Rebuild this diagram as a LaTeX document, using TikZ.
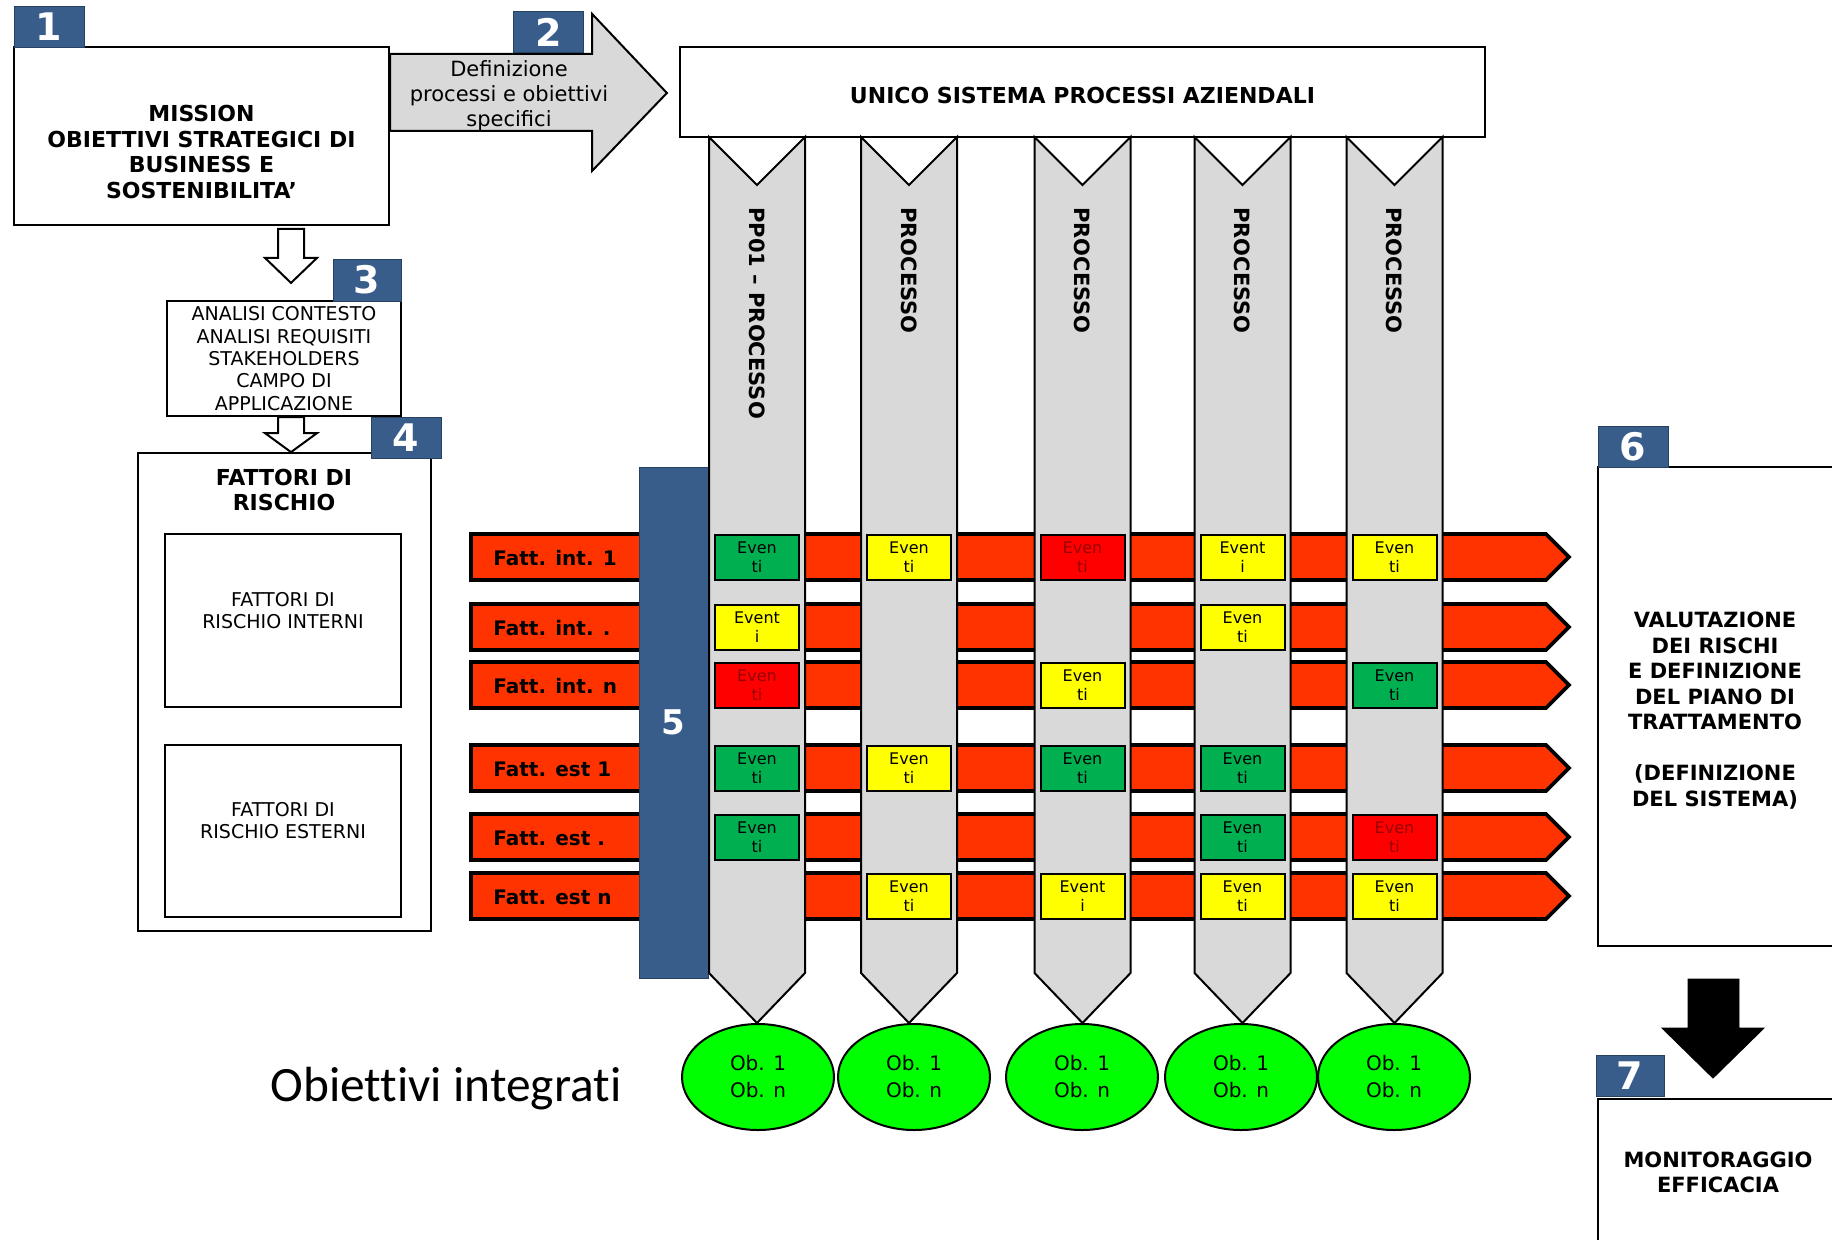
\documentclass[tikz,border=0pt]{standalone}
\usepackage{fontspec}
\setmainfont{DejaVu Sans}
\newfontfamily\carlito[Ligatures=CommonOff]{Carlito}
\usetikzlibrary{positioning,calc,shapes.geometric}

\definecolor{numblue}{HTML}{385D8A}
\definecolor{factred}{HTML}{FF3300}
\definecolor{evgreen}{HTML}{00B050}
\definecolor{evyellow}{HTML}{FFFF00}
\definecolor{evred}{HTML}{FF0000}
\definecolor{evtxtred}{HTML}{990000}
\definecolor{procgray}{HTML}{D9D9D9}
\definecolor{obgreen}{HTML}{00FF00}

\newcommand{\evti}{Even\\ti}
\newcommand{\evi}{Event\\i}

\begin{document}
\begin{tikzpicture}[
    x=0.5pt, y=-0.5pt,
    font=\fontsize{10.5}{12.5}\selectfont,
    numbox/.style={draw=numblue!70!black, fill=numblue, text=white, inner sep=0pt, minimum width=35pt, minimum height=20.5pt, font=\fontsize{19}{19}\selectfont\bfseries},
    plainbox/.style={draw, line width=1.1pt, fill=white, inner sep=0pt},
    headtxt/.style={align=center, font=\fontsize{11}{12.8}\selectfont\bfseries},
    smalltxt/.style={align=center, font=\fontsize{9.5}{11.2}\selectfont},
    factbar/.style={draw, line width=1.8pt, fill=factred},
    facttxt/.style={anchor=west, inner sep=0pt, font=\fontsize{10}{12}\selectfont\bfseries},
    procbar/.style={draw, line width=1pt, fill=procgray},
    proctxt/.style={anchor=west, rotate=-90, inner sep=0pt, font=\fontsize{10.5}{12}\selectfont\bfseries},
    event/.style={draw, line width=1pt, fill=#1, minimum width=42pt, minimum height=22.5pt, inner sep=0pt, align=center, font=\fontsize{8}{9.5}\selectfont},
    objective/.style={ellipse, draw, line width=1pt, fill=obgreen, minimum width=76pt, minimum height=53pt, inner sep=0pt, align=center, font=\fontsize{10}{13.5}\selectfont},
    hollow/.style={draw, line width=1pt, fill=white},
    bigarrow/.style={draw, line width=1pt, fill=procgray}
]
    \clip (0,0) rectangle (1832,1239);
    \fill[white] (0,0) rectangle (1832,1239);

    % risk factor bars
    \foreach \fy/\ft [count=\i] in {557/Fatt. int. 1, 627/Fatt. int. ., 685/Fatt. int. n, 768/Fatt. est 1, 837/Fatt. est ., 896/Fatt. est n} {
        \draw[factbar] (471,\fy-23) -- (1546,\fy-23) -- (1569,\fy) -- (1546,\fy+23) -- (471,\fy+23) -- cycle;
        \node[facttxt] (fatt\i) at (493,\fy+1) {\ft};
    }
    \node[draw=numblue!70!black, fill=numblue, text=white, minimum width=34.5pt, minimum height=255.5pt, font=\fontsize{17}{17}\selectfont\bfseries] (n5) at (673.5,722.5) {5};

    % processes
    \node[plainbox, minimum width=402.5pt, minimum height=45pt, font=\fontsize{11}{12}\selectfont\bfseries] (sistema) at (1082.5,92) {};
    \node[font=\fontsize{11}{12}\selectfont\bfseries] (sistematxt) at (1082.5,95) {UNICO SISTEMA PROCESSI AZIENDALI};
    \foreach \px/\pt [count=\i] in {757/PP01 -- PROCESSO, 909/PROCESSO, 1082.5/PROCESSO, 1242.5/PROCESSO, 1394.5/PROCESSO} {
        \draw[procbar] (\px-48,137) -- (\px,185) -- (\px+48,137) -- (\px+48,973) -- (\px,1023) -- (\px-48,973) -- cycle;
        \node[proctxt] (proc\i) at (\px,207) {\pt};
    }

    % events
    \foreach \ex/\ey/\efill/\etext/\ecol [count=\i] in {
        757/557/evgreen/\evti/black, 909/557/evyellow/\evti/black, 1082.5/557/evred/\evti/evtxtred, 1242.5/557/evyellow/\evi/black, 1394.5/557/evyellow/\evti/black,
        757/627/evyellow/\evi/black, 1242.5/627/evyellow/\evti/black,
        757/685/evred/\evti/evtxtred, 1082.5/685/evyellow/\evti/black, 1394.5/685/evgreen/\evti/black,
        757/768/evgreen/\evti/black, 909/768/evyellow/\evti/black, 1082.5/768/evgreen/\evti/black, 1242.5/768/evgreen/\evti/black,
        757/837/evgreen/\evti/black, 1242.5/837/evgreen/\evti/black, 1394.5/837/evred/\evti/evtxtred,
        909/896/evyellow/\evti/black, 1082.5/896/evyellow/\evi/black, 1242.5/896/evyellow/\evti/black, 1394.5/896/evyellow/\evti/black}
        \node[event=\efill, text=\ecol] (ev\i) at (\ex,\ey) {\etext};

    % objectives
    \foreach \ox [count=\i] in {758,914,1082,1241,1394}
        \node[objective] (ob\i) at (\ox,1077) {Ob. 1\\Ob. n};
    \node[font=\carlito\fontsize{24.7}{26}\selectfont] (obint) at (446,1089) {Obiettivi integrati};

    % left column
    \node[plainbox, minimum width=187.5pt, minimum height=89pt] (mission) at (201.5,136) {};
    \node[headtxt] (missiontxt) at (201.5,152) {MISSION\\OBIETTIVI STRATEGICI DI\\BUSINESS E\\SOSTENIBILITA’};
    \node[numbox] (n1) at (49,26.5) {1};

    \draw[bigarrow] ($(mission.north east)+(0,8)$) -- ++(202,0) -- ++(0,-40) -- ($(sistema.west)+(-12,1)$) -- ($(mission.north east)+(202,125)$) -- ++(0,-40) -- ($(mission.north east)+(0,85)$) -- cycle;
    \node[align=center, font=\fontsize{10.5}{12.5}\selectfont] (deftxt) at (509,96) {Definizione\\processi e obiettivi\\specifici};
    \node[numbox] (n2) at (548.5,32) {2};

    \node[plainbox, smalltxt, minimum width=117pt, minimum height=57.5pt] (analisi) at (284,358.5) {ANALISI CONTESTO\\ANALISI REQUISITI\\STAKEHOLDERS\\CAMPO DI\\APPLICAZIONE};
    \node[numbox, minimum width=34pt, minimum height=21pt] (n3) at (367,280) {3};
    \draw[hollow] ($(analisi.north)+(-6,-71)$) -- ++(26,0) -- ++(0,29) -- ++(13,0) -- ++(-26,25) -- ++(-26,-25) -- ++(13,0) -- cycle;

    \node[plainbox, minimum width=146.5pt, minimum height=239pt] (fattori) at (284.5,692) {};
    \node[headtxt] (fattoritxt) at (284,490) {FATTORI DI\\RISCHIO};
    \node[plainbox, minimum width=118pt, minimum height=86.5pt] (interni) at (283,620.5) {};
    \node[smalltxt] (internitxt) at (283,610.5) {FATTORI DI\\RISCHIO INTERNI};
    \node[plainbox, minimum width=118pt, minimum height=86pt] (esterni) at (283,831) {};
    \node[smalltxt] (esternitxt) at (283,820.5) {FATTORI DI\\RISCHIO ESTERNI};
    \draw[hollow] ($(analisi.south)+(-6,0)$) -- ++(26,0) -- ++(0,16) -- ++(13,0) -- ++(-26,19) -- ++(-26,-19) -- ++(13,0) -- cycle;
    \node[numbox] (n4) at (406,437.5) {4};

    % right column
    \node[plainbox, minimum width=121pt, minimum height=239.5pt] (valutazione) at (1719,706.5) {};
    \node[headtxt, font=\fontsize{10.5}{12.75}\selectfont\bfseries] (valtxt) at (1715,710.5) {VALUTAZIONE\\DEI RISCHI\\E DEFINIZIONE\\DEL PIANO DI\\TRATTAMENTO\\[12.75pt](DEFINIZIONE\\DEL SISTEMA)};
    \node[numbox] (n6) at (1633,446.5) {6};

    \draw[fill=black] ($(valutazione.south)+(-31,32)$) -- ++(51,0) -- ++(0,49) -- ++(25,0) -- ++(-51,50) -- ++(-51,-50) -- ++(26,0) -- cycle;

    \node[plainbox, minimum width=121pt, minimum height=80pt] (monitoraggio) at (1719,1179) {};
    \node[headtxt, font=\fontsize{10.5}{12.5}\selectfont\bfseries] (montxt) at (1718,1172.5) {MONITORAGGIO\\EFFICACIA};
    \node[numbox, minimum width=34pt] (n7) at (1630,1076) {7};
\end{tikzpicture}
\end{document}
